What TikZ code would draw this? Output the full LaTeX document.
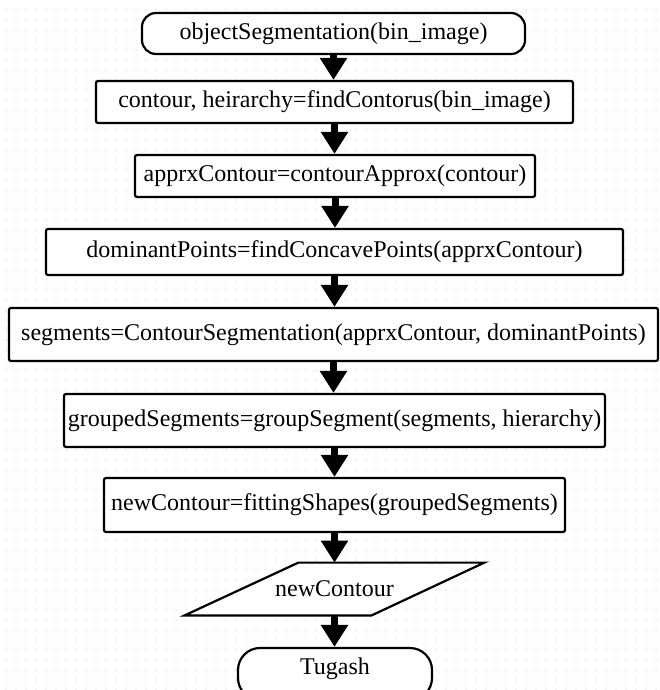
\documentclass[tikz,border=0pt]{standalone}
\usepackage{fontspec}
\setmainfont{Liberation Serif}
\usetikzlibrary{arrows.meta,calc}
\definecolor{gridgray}{RGB}{222,222,222}
\tikzset{
  procbox/.style={draw,fill=white,line width=1.1pt,rounded corners=1pt,inner sep=0pt},
  termbox/.style={draw,fill=white,line width=1.1pt,inner sep=0pt},
  flow/.style={line width=3.5pt,-{Triangle[width=13pt,length=11pt]}}
}
\begin{document}
\begin{tikzpicture}[x=0.5pt,y=-0.5pt,font=\fontsize{12}{14}\selectfont]
  \useasboundingbox (0,0) rectangle (659,690);
  % dotted background
  \foreach \i in {0,...,65}
    \foreach \j in {0,...,68}
      \fill[gridgray] (6+10*\i,10+10*\j) circle (0.45pt);
  % nodes
  \node[termbox,rounded corners=7pt,minimum width=191.5pt,minimum height=20.5pt] (start) at (333.5,33.5) {objectSegmentation(bin\_image)};
  \node[procbox,minimum width=238.5pt,minimum height=21pt] (contour) at (334.5,102) {contour, heirarchy=findContorus(bin\_image)};
  \node[procbox,minimum width=200pt,minimum height=21pt] (approx) at (335,176) {apprxContour=contourApprox(contour)};
  \node[procbox,minimum width=288.5pt,minimum height=23pt] (dominant) at (334.5,252) {dominantPoints=findConcavePoints(apprxContour)};
  \node[procbox,minimum width=324.5pt,minimum height=26.5pt] (segments) at (333.5,334.5) {segments=ContourSegmentation(apprxContour, dominantPoints)};
  \node[procbox,minimum width=270.5pt,minimum height=26.5pt] (grouped) at (334.5,420.5) {groupedSegments=groupSegment(segments, hierarchy)};
  \node[procbox,minimum width=230.5pt,minimum height=27pt] (fitting) at (334.5,505) {newContour=fittingShapes(groupedSegments)};
  \node[inner sep=0pt,minimum width=149.5pt,minimum height=26pt] (output) at (334.5,589) {};
  \fill[white,draw=black,line width=1.1pt] (output.south west) -- ([xshift=93.5pt]output.south west)
    -- (output.north east) -- ([xshift=-93pt]output.north east) -- cycle;
  \node (outputtext) at (output) {newContour};
  \node[termbox,rounded corners=11pt,minimum width=97pt,minimum height=26pt] (stop) at (335,674) {};
  \node (stoptext) at (335,669) {Tugash};
  % connectors
  \draw[flow] (start.south) -- (start.south |- contour.north);
  \draw[flow] (contour.south) -- (contour.south |- approx.north);
  \draw[flow] (approx.south) -- (approx.south |- dominant.north);
  \draw[flow] (dominant.south) -- (dominant.south |- segments.north);
  \draw[flow] (segments.south) -- (segments.south |- grouped.north);
  \draw[flow] (grouped.south) -- (grouped.south |- fitting.north);
  \draw[flow] (fitting.south) -- (fitting.south |- output.north);
  \draw[flow] (output.south) -- (output.south |- stop.north);
\end{tikzpicture}
\end{document}
